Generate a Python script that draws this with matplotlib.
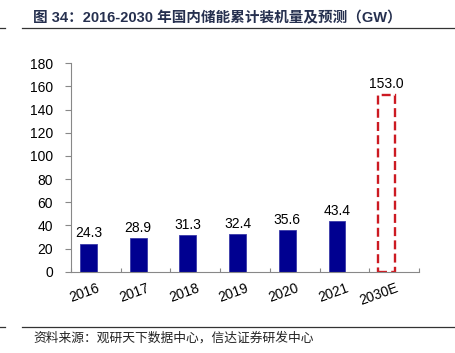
import numpy as np
import matplotlib.pyplot as plt
from matplotlib.lines import Line2D

plt.rcParams['font.family'] = ['Liberation Sans', 'Noto Sans CJK SC', 'DejaVu Sans']

years = ["2016", "2017", "2018", "2019", "2020", "2021", "2030E"]
actual = [24.3, 28.9, 31.3, 32.4, 35.6, 43.4]
forecast = 153.0

fig = plt.figure(figsize=(4.55, 3.53), dpi=100)
ax = fig.add_axes([71/455, 1-271.7/353, 348/455, 208.4/353])

x = np.arange(len(years))
off = -0.15
w = 0.34
ax.bar(x[:6] + off, actual, width=w, color='#000090', edgecolor='#3a3aa8', linewidth=0.6)
ax.bar(x[6] + off, forecast, width=w, fill=False, edgecolor='#CC1A22',
       linestyle=(0, (3.8, 1.8)), linewidth=1.7)

for xi, v in zip(x[:6], actual):
    ax.text(xi + off, v + 3, f"{v:.1f}", ha='center', va='bottom', fontsize=10)
ax.text(x[6] + off, forecast + 3, f"{forecast:.1f}", ha='center', va='bottom', fontsize=10)

ax.set_xlim(-0.5, len(years) - 0.5)
ax.set_ylim(0, 180)
ax.set_yticks(range(0, 181, 20))
ax.tick_params(axis='y', direction='out', length=4, color='#888888', labelsize=10, pad=9)
ax.set_xticks(np.arange(len(years) + 1) - 0.5)
ax.set_xticklabels([])
ax.tick_params(axis='x', direction='in', length=3, color='#888888')
for xi, lab in zip(x, years):
    ax.text(xi + 0.02, -8, lab, rotation=20, rotation_mode='anchor', ha='right', va='top', fontsize=10,
            transform=ax.transData)

for s in ['top', 'right']:
    ax.spines[s].set_visible(False)
for s in ['left', 'bottom']:
    ax.spines[s].set_color('#888888')
    ax.spines[s].set_linewidth(0.8)

fig.text(33/455, 1-18/353, "图 34：2016-2030 年国内储能累计装机量及预测（GW）", fontsize=10.5,
         fontweight='bold', color='#26304F', va='center', ha='left',
         family=['Liberation Sans', 'Noto Sans CJK SC'])
for yy in [28, 327]:
    fig.add_artist(Line2D([22/455, 1], [1-yy/353]*2, color='#333333', lw=0.9))
    fig.add_artist(Line2D([0, 5/455], [1-yy/353]*2, color='#333333', lw=0.9))
fig.text(33/455, 1-338/353, "资料来源：观研天下数据中心，信达证券研发中心", fontsize=9.2,
         color='#222222', va='center', ha='left', style='italic',
         family=['Noto Sans CJK SC'])

fig.savefig("out.png", dpi=100)
